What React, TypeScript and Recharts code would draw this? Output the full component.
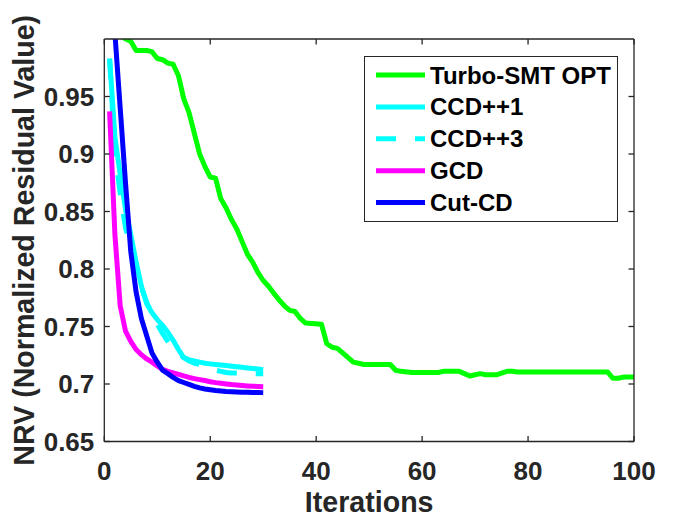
import React from 'react';
import { LineChart, Line, XAxis, YAxis } from 'recharts';

// NRV per iteration
const turboIter = [3, 4, 5, 6, 8, 9, 10, 11, 12, 13, 14, 15, 16, 17, 18, 19, 20, 21, 22, 23, 24, 25, 26, 27, 28, 29, 30,
    31, 32, 33, 34, 35, 36, 37, 38, 41, 42, 43, 44, 45, 47, 48, 49, 54, 55, 56, 58, 63, 64, 67, 68, 69, 70, 71, 72, 74,
    76, 77, 78, 95, 96, 97, 98, 100];
const turboNrv = [1.003, 1.0, 0.998, 0.99, 0.99, 0.989, 0.983, 0.982, 0.979, 0.978, 0.968, 0.948, 0.936, 0.918, 0.9,
    0.889, 0.88, 0.879, 0.861, 0.853, 0.843, 0.835, 0.824, 0.813, 0.806, 0.797, 0.79,
    0.785, 0.779, 0.773, 0.768, 0.764, 0.763, 0.757, 0.753, 0.752, 0.735, 0.732, 0.731, 0.727, 0.719, 0.718, 0.717,
    0.717, 0.712, 0.711, 0.71, 0.71, 0.711, 0.711, 0.709, 0.707, 0.708, 0.709, 0.708, 0.708,
    0.711, 0.711, 0.7105, 0.7105, 0.705, 0.705, 0.706, 0.706];

const shortIter = [1, 2, 3, 4, 5, 6, 7, 8, 9, 10, 11, 12, 13, 14, 15, 16, 17, 18, 19, 20, 21, 22, 23, 24, 25, 26, 27, 28, 29, 30];
const ccd1Nrv = [0.983, 0.915, 0.882, 0.852, 0.83, 0.806, 0.785, 0.77, 0.762, 0.756, 0.751, 0.745, 0.738, 0.73, 0.723,
    0.721, 0.72, 0.719, 0.718, 0.7175, 0.717, 0.7165, 0.716, 0.7155, 0.715, 0.7145, 0.714, 0.7135, 0.713, 0.7125];
const ccd3Nrv = [0.983, 0.9, 0.866, 0.836, 0.818, 0.8, 0.784, 0.771, 0.761, 0.752, 0.744, 0.737, 0.731, 0.727, 0.723,
    0.72, 0.718, 0.717, 0.716, 0.714, 0.712, 0.711, 0.71, 0.7095, 0.7095, 0.7095, 0.709, 0.709, 0.709, 0.709];
const gcdNrv = [0.937, 0.83, 0.768, 0.746, 0.737, 0.73, 0.7255, 0.7218, 0.719, 0.7157, 0.7127, 0.711, 0.7096, 0.7083,
    0.707, 0.7057, 0.7047, 0.7038, 0.703, 0.702, 0.7012, 0.7006, 0.7, 0.6995, 0.6992, 0.6987, 0.6983, 0.698, 0.6979, 0.6977];
const cutNrv = [1.06, 1.005, 0.94, 0.875, 0.815, 0.78, 0.757, 0.742, 0.727, 0.719, 0.712, 0.709, 0.7057, 0.703, 0.7013,
    0.6996, 0.698, 0.6966, 0.6957, 0.695, 0.6944, 0.694, 0.6935, 0.6932, 0.693, 0.6929, 0.6928, 0.6927, 0.6926, 0.6925];

const xTicks = [0, 20, 40, 60, 80, 100];
const yTicks = [0.65, 0.7, 0.75, 0.8, 0.85, 0.9, 0.95];
const yTickLabels = ['0.65', '0.7', '0.75', '0.8', '0.85', '0.9', '0.95'];

const toPoints = (xs: number[], ys: number[]) => xs.map((x, i) => ({ x, y: ys[i] }));

const series = [
    { name: 'Turbo-SMT OPT', color: '#00ff00', dash: undefined, data: toPoints(turboIter, turboNrv) },
    { name: 'CCD++1', color: '#00ffff', dash: undefined, data: toPoints(shortIter, ccd1Nrv) },
    { name: 'CCD++3', color: '#00ffff', dash: '20 19', data: toPoints(shortIter, ccd3Nrv) },
    { name: 'GCD', color: '#ff00ff', dash: undefined, data: toPoints(shortIter, gcdNrv) },
    { name: 'Cut-CD', color: '#0000ff', dash: undefined, data: toPoints(shortIter, cutNrv) },
];

const AXIS = '#262626';
const FONT = '"Liberation Sans", Arial, Helvetica, sans-serif';
const TICK_LEN = 5.5;

const BottomTick = ({ x, y, payload }: any) => (
    <g>
        <line x1={x} x2={x} y1={y} y2={y - TICK_LEN} stroke={AXIS} strokeWidth={1.3} />
        <text x={x} y={y + 38} textAnchor="middle" fontSize={26} fontWeight="bold" fill={AXIS} fontFamily={FONT}>
            {payload.value}
        </text>
    </g>
);

const TopTick = ({ x, y }: any) => (
    <line x1={x} x2={x} y1={y} y2={y + TICK_LEN} stroke={AXIS} strokeWidth={1.3} />
);

const LeftTick = ({ x, y, payload }: any) => {
    const idx = yTicks.findIndex(t => Math.abs(t - payload.value) < 1e-6);
    return (
        <g>
            <line x1={x} x2={x + TICK_LEN} y1={y} y2={y} stroke={AXIS} strokeWidth={1.3} />
            <text x={x - 10} y={y + 9} textAnchor="end" fontSize={26} fontWeight="bold" fill={AXIS} fontFamily={FONT}>
                {idx >= 0 ? yTickLabels[idx] : payload.value}
            </text>
        </g>
    );
};

const RightTick = ({ x, y }: any) => (
    <line x1={x} x2={x - TICK_LEN} y1={y} y2={y} stroke={AXIS} strokeWidth={1.3} />
);

const YLabel = ({ viewBox }: any) => {
    const cy = viewBox.y + viewBox.height / 2;
    return (
        <text x={34} y={cy} transform={`rotate(-90, 34, ${cy})`} textAnchor="middle" fontSize={28.6}
            fontWeight="bold" fill={AXIS} fontFamily={FONT}>
            NRV (Normalized Residual Value)
        </text>
    );
};

const XLabel = ({ viewBox }: any) => (
    <text x={viewBox.x + viewBox.width / 2} y={512} textAnchor="middle" fontSize={28.6} fontWeight="bold"
        fill={AXIS} fontFamily={FONT}>
        Iterations
    </text>
);

const LegendBox = () => (
    <div style={{
        position: 'absolute', left: 364, top: 56, width: 254, height: 166, boxSizing: 'border-box',
        border: `1.3px solid ${AXIS}`, background: '#fff'
    }}>
        <svg width={252} height={164}>
            {series.map((s, i) => {
                const cy = 18 + i * 31.9;
                return (
                    <g key={s.name}>
                        <line x1={11} x2={60} y1={cy} y2={cy} stroke={s.color} strokeWidth={5}
                            strokeDasharray={s.dash} />
                        <text x={65} y={cy + 8.5} fontSize={24} fontWeight="bold" fill="#000" fontFamily={FONT}>
                            {s.name}
                        </text>
                    </g>
                );
            })}
        </svg>
    </div>
);

export default function App() {
    return (
        <div style={{ position: 'absolute', left: 0, top: 0, width: 700, height: 523, background: '#fff' }}>
            <LineChart width={700} height={523} margin={{ top: 38, right: 65, bottom: 0, left: 0 }}>
                <XAxis dataKey="x" type="number" domain={[0, 100]} ticks={xTicks} allowDataOverflow
                    height={81.5} tickSize={0} tickMargin={0} tickLine={false}
                    axisLine={{ stroke: AXIS, strokeWidth: 1.3 }} tick={<BottomTick />} label={<XLabel />} />
                <XAxis xAxisId="top" orientation="top" dataKey="x" type="number" domain={[0, 100]} ticks={xTicks}
                    allowDataOverflow height={1} tickSize={0} tickMargin={0} tickLine={false}
                    axisLine={{ stroke: AXIS, strokeWidth: 1.3 }} tick={<TopTick />} />
                <YAxis type="number" domain={[0.65, 1.0]} ticks={yTicks} allowDataOverflow width={104.3}
                    tickSize={0} tickMargin={0} tickLine={false} axisLine={{ stroke: AXIS, strokeWidth: 1.3 }}
                    tick={<LeftTick />} label={<YLabel />} />
                <YAxis yAxisId="right" orientation="right" type="number" domain={[0.65, 1.0]} ticks={yTicks}
                    allowDataOverflow width={1} tickSize={0} tickMargin={0} tickLine={false}
                    axisLine={{ stroke: AXIS, strokeWidth: 1.3 }} tick={<RightTick />} />
                {series.map(s => (
                    <Line key={s.name} data={s.data} dataKey="y" type="linear" stroke={s.color} strokeWidth={5}
                        strokeDasharray={s.dash} strokeLinejoin="round" dot={false} activeDot={false}
                        isAnimationActive={false} />
                ))}
            </LineChart>
            <LegendBox />
        </div>
    );
}
